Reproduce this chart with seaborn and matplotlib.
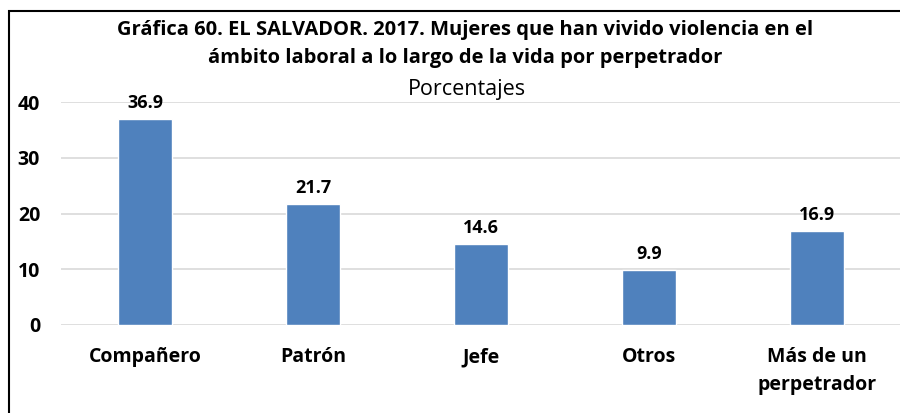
import matplotlib
matplotlib.use("Agg")
import matplotlib.pyplot as plt
import seaborn as sns
import pandas as pd
from matplotlib.patches import Rectangle

categorias = ["Compañero", "Patrón", "Jefe", "Otros", "Más de un\nperpetrador"]
valores = [36.9, 21.7, 14.6, 9.9, 16.9]
yticks = [0, 10, 20, 30, 40]

sns.set_theme(style="white")
plt.rcParams['font.family'] = ['Open Sans', 'DejaVu Sans']
plt.rcParams['text.color'] = 'black'
plt.rcParams['xtick.color'] = 'black'
plt.rcParams['ytick.color'] = 'black'

W, H = 900, 413
fig = plt.figure(figsize=(9, 4.13), dpi=100)
ax = fig.add_axes([61 / W, 1 - 325 / H, 840 / W, (325 - 102) / H])

df = pd.DataFrame({"cat": categorias, "val": valores})
sns.barplot(data=df, x="cat", y="val", color="#4F81BD", saturation=1,
            width=0.32, ax=ax, zorder=3)

ax.set_ylim(0, 40)
ax.set_yticks(yticks)
ax.set_yticklabels([str(t) for t in yticks], fontsize=14, fontweight="bold")
ax.yaxis.grid(True, color="#d9d9d9", linewidth=1.2, zorder=0)
ax.set_axisbelow(True)
for s in ax.spines.values():
    s.set_visible(False)
ax.tick_params(axis="y", length=0, pad=15, labelcolor="black")
ax.tick_params(axis="x", length=0, pad=16, labelcolor="black")
for lbl in ax.get_xticklabels():
    lbl.set_fontsize(14)
    lbl.set_fontweight("bold")
    lbl.set_linespacing(1.55)
ax.set_xlabel("")
ax.set_ylabel("")

for c in ax.containers:
    ax.bar_label(c, labels=[f"{v:.1f}" for v in valores], padding=5,
                 fontsize=13, fontweight="bold", color="black")

fig.text(465 / W, 1 - 30 / H,
         "Gráfica 60. EL SALVADOR. 2017. Mujeres que han vivido violencia en el",
         ha="center", va="center", fontsize=14.5, fontweight="bold", color="black")
fig.text(465 / W, 1 - 58 / H,
         "ámbito laboral a lo largo de la vida por perpetrador",
         ha="center", va="center", fontsize=14.5, fontweight="bold", color="black")
fig.text(467 / W, 1 - 89 / H, "Porcentajes",
         ha="center", va="center", fontsize=15.5, color="black")

fig.patches.append(Rectangle((9 / W, -0.2), 1.2, 1.2 - 11 / H + 0.0,
                             transform=fig.transFigure, fill=False,
                             edgecolor="black", linewidth=1.5, zorder=10))

fig.savefig("out.png", dpi=100)
